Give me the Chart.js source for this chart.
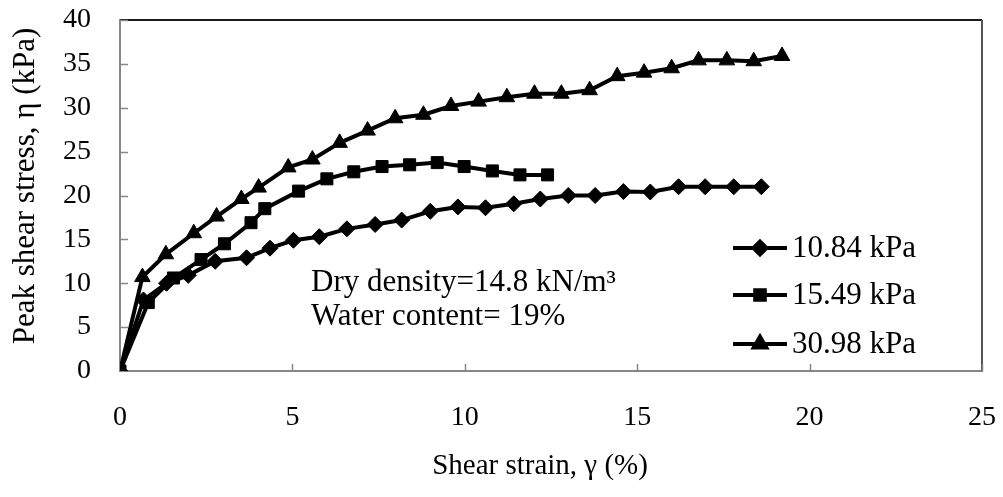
<!DOCTYPE html>
<html>
<head>
<meta charset="utf-8">
<script src="https://cdn.jsdelivr.net/npm/chart.js@4.4.1/dist/chart.umd.min.js"></script>
<style>
  html, body { margin: 0; padding: 0; background: #fff; }
  #wrap { width: 1003px; height: 497px; position: relative; }
</style>
</head>
<body>
<div id="wrap"><canvas id="c" width="1003" height="497"></canvas></div>
<script>
// Shear strain (%) and peak shear stress (kPa) for each normal stress
const strainA = [0, 0.68, 1.35, 1.98, 2.76, 3.67, 4.35, 5.03, 5.78, 6.58, 7.4, 8.17, 9.0, 9.8, 10.6, 11.42, 12.19, 13.0, 13.78, 14.6, 15.38, 16.2, 16.97, 17.8, 18.6];
const stressA = [0, 8.1, 10.0, 10.9, 12.5, 12.9, 14.0, 14.9, 15.3, 16.2, 16.7, 17.2, 18.2, 18.7, 18.6, 19.05, 19.6, 20.0, 20.0, 20.45, 20.4, 21.0, 21.0, 21.0, 21.0];

const strainB = [0, 0.82, 1.55, 2.35, 3.03, 3.8, 4.2, 5.18, 6.0, 6.78, 7.6, 8.4, 9.2, 9.98, 10.8, 11.6, 12.4];
const stressB = [0, 7.8, 10.6, 12.7, 14.5, 16.9, 18.5, 20.5, 21.9, 22.7, 23.3, 23.5, 23.75, 23.3, 22.8, 22.35, 22.35];

const strainC = [0, 0.65, 1.33, 2.14, 2.8, 3.52, 4.02, 4.88, 5.58, 6.37, 7.18, 7.98, 8.8, 9.6, 10.4, 11.22, 12.02, 12.8, 13.62, 14.42, 15.2, 16.0, 16.78, 17.6, 18.38, 19.2];
const stressC = [0, 10.7, 13.3, 15.7, 17.6, 19.6, 20.9, 23.2, 24.1, 26.0, 27.4, 28.8, 29.2, 30.2, 30.7, 31.2, 31.6, 31.6, 32.0, 33.6, 34.0, 34.5, 35.4, 35.4, 35.3, 35.9];

const seriesLabels = ['10.84 kPa', '15.49 kPa', '30.98 kPa'];
const xTicks = [0, 5, 10, 15, 20, 25];
const yTicks = [0, 5, 10, 15, 20, 25, 30, 35, 40];
const xTitle = 'Shear strain, \u03B3 (%)';
const yTitle = 'Peak shear stress, \u03B7 (kPa)';
const noteLines = ['Dry density=14.8 kN/m\u00B3', 'Water content= 19%'];

const SERIF = '"Liberation Serif", "Times New Roman", "DejaVu Serif", serif';
const AXIS_GREY = '#878787';

function toPoints(xs, ys) {
  return xs.map((x, i) => ({ x: x, y: ys[i] }));
}

function seriesStyle(style, radius) {
  return {
    borderColor: '#000',
    backgroundColor: '#000',
    borderWidth: 4,
    pointStyle: style,
    pointRadius: radius,
    pointHoverRadius: radius,
    pointBackgroundColor: '#000',
    pointBorderColor: '#000',
    pointBorderWidth: 1,
    tension: 0,
    fill: false,
    showLine: true
  };
}

const datasets = [
  Object.assign({ label: seriesLabels[0], data: toPoints(strainA, stressA) }, seriesStyle('rectRot', 8)),
  Object.assign({ label: seriesLabels[1], data: toPoints(strainB, stressB) }, seriesStyle('rect', 8.5)),
  Object.assign({ label: seriesLabels[2], data: toPoints(strainC, stressC) }, seriesStyle('triangle', 9))
];

// Frame, inward tick marks, axis titles, legend and the test-condition note
const decorations = {
  id: 'decorations',
  afterDatasetsDraw(chart) {
    const ctx = chart.ctx;
    const area = chart.chartArea;
    const xs = chart.scales.x;
    const ys = chart.scales.y;
    ctx.save();

    // top and right frame lines
    ctx.lineWidth = 2;
    ctx.strokeStyle = '#1a1a1a';
    ctx.beginPath();
    ctx.moveTo(area.left, area.top);
    ctx.lineTo(area.right, area.top);
    ctx.stroke();
    ctx.strokeStyle = '#555';
    ctx.beginPath();
    ctx.moveTo(area.right, area.top);
    ctx.lineTo(area.right, area.bottom);
    ctx.stroke();

    // inward tick marks
    ctx.strokeStyle = AXIS_GREY;
    ctx.lineWidth = 1.5;
    xTicks.forEach(v => {
      if (v === 0) return;
      const px = Math.round(xs.getPixelForValue(v)) + 0.5;
      ctx.beginPath();
      ctx.moveTo(px, area.bottom);
      ctx.lineTo(px, area.bottom - 7);
      ctx.stroke();
    });
    yTicks.forEach(v => {
      if (v === 0) return;
      const py = Math.round(ys.getPixelForValue(v)) + 0.5;
      ctx.beginPath();
      ctx.moveTo(area.left, py);
      ctx.lineTo(area.left + 8, py);
      ctx.stroke();
    });

    // axis titles
    ctx.fillStyle = '#000';
    ctx.textAlign = 'center';
    ctx.textBaseline = 'middle';
    ctx.font = '29px ' + SERIF;
    ctx.fillText(xTitle, 540, 466);
    ctx.save();
    ctx.translate(26, 186);
    ctx.rotate(-Math.PI / 2);
    ctx.font = '31px ' + SERIF;
    ctx.fillText(yTitle, 0, 0);
    ctx.restore();

    // legend
    const legendRows = [248, 295, 344];
    ctx.font = '31px ' + SERIF;
    ctx.textBaseline = 'middle';
    ctx.textAlign = 'left';
    chart.data.datasets.forEach((ds, i) => {
      const y = legendRows[i];
      ctx.strokeStyle = '#000';
      ctx.lineWidth = 4;
      ctx.beginPath();
      ctx.moveTo(733, y);
      ctx.lineTo(787, y);
      ctx.stroke();
      Chart.helpers.drawPoint(ctx, {
        pointStyle: ds.pointStyle,
        radius: ds.pointRadius * 0.8,
        rotation: 0,
        borderWidth: 1
      }, 760, y);
      ctx.fillStyle = '#000';
      ctx.fill();
      ctx.fillText(ds.label, 792, y + 1);
    });

    // test-condition note
    ctx.textBaseline = 'alphabetic';
    ctx.fillText(noteLines[0], 311, 291);
    ctx.fillText(noteLines[1], 311, 325);

    ctx.restore();
  }
};

new Chart(document.getElementById('c'), {
  type: 'scatter',
  data: { datasets: datasets },
  options: {
    responsive: false,
    animation: false,
    devicePixelRatio: 1,
    layout: { padding: { top: 20, right: 21, left: 0, bottom: 0 } },
    plugins: {
      legend: { display: false },
      tooltip: { enabled: false }
    },
    scales: {
      x: {
        type: 'linear',
        min: 0,
        max: 25,
        afterBuildTicks(scale) { scale.ticks = xTicks.map(v => ({ value: v })); },
        afterFit(scale) { scale.height = 126; },
        // transparent tick marks act as the gap between axis and labels
        grid: { drawOnChartArea: false, drawTicks: true, tickLength: 28, tickColor: 'rgba(0,0,0,0)' },
        border: { display: true, color: AXIS_GREY, width: 2 },
        ticks: {
          color: '#000',
          padding: 2,
          maxRotation: 0,
          font: { family: SERIF, size: 28 }
        },
        title: { display: false }
      },
      y: {
        type: 'linear',
        min: 0,
        max: 40,
        afterBuildTicks(scale) { scale.ticks = yTicks.map(v => ({ value: v })); },
        afterFit(scale) { scale.width = 120; },
        grid: { drawOnChartArea: false, drawTicks: true, tickLength: 27, tickColor: 'rgba(0,0,0,0)' },
        border: { display: true, color: AXIS_GREY, width: 2 },
        ticks: {
          color: '#000',
          padding: 2,
          font: { family: SERIF, size: 28 }
        },
        title: { display: false }
      }
    }
  },
  plugins: [decorations]
});
</script>
</body>
</html>
